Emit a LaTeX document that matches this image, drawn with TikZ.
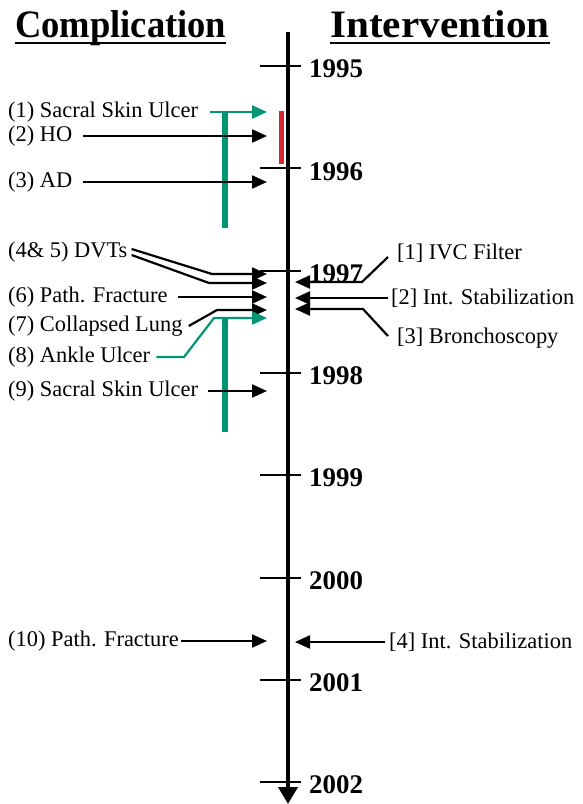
\documentclass[tikz,border=0pt]{standalone}
\usepackage{fontspec}
\setmainfont{Liberation Serif}
\usetikzlibrary{arrows.meta}
\definecolor{ulcergreen}{RGB}{0,150,115}
\definecolor{hored}{RGB}{220,35,45}
\tikzset{
  lbl/.style={font=\fontsize{22.5}{24}\selectfont, inner sep=0pt},
  yr/.style={font=\bfseries\fontsize{27}{29}\selectfont, inner sep=0pt, anchor=west},
  hdr/.style={font=\bfseries\fontsize{39}{41}\selectfont, inner sep=0pt, anchor=base west, transform shape},
  conn/.style={line width=2.2bp},
  tickmark/.style={line width=2bp},
}
\begin{document}
\begin{tikzpicture}[x=1bp,y=-1bp,>={Triangle[length=15bp,width=13bp]}]
\useasboundingbox (0,0) rectangle (583,804);
% headings
\node[hdr,xscale=0.94] (comp) at (15,38) {Complication};
\node[hdr,xscale=1.06] (interv) at (330,38) {Intervention};
\draw[line width=2.5bp] ([yshift=-5bp]comp.base west) -- ([yshift=-5bp]comp.base east);
\draw[line width=2.5bp] ([yshift=-5bp]interv.base west) -- ([yshift=-5bp]interv.base east);
% time axis
\draw[line width=4bp,-{Triangle[length=17bp,width=19bp]}] (288,32) -- (288,804);
\foreach \yr [count=\i from 0] in {1995,...,2002}{
  \draw[tickmark] (260,{66+102.3*\i}) -- (301,{66+102.3*\i});
  \node[yr] (y\yr) at (309,{69+102.3*\i}) {\yr};
}
% bars
\draw[hored,line width=5bp] (281,111) -- (281,164);
\draw[ulcergreen,line width=5.5bp] (225,113) -- (225,228);
\draw[ulcergreen,line width=5.5bp] (225,317) -- (225,432);
% complications
\node[lbl,anchor=west] (s1) at (8,112) {(1) Sacral Skin Ulcer};
\node[lbl,anchor=west] (ho) at (8,136) {(2) HO};
\node[lbl,anchor=west] (ad) at (8,182) {(3) AD};
\node[lbl,anchor=west] (dvt) at (8,252) {(4\& 5) DVTs};
\node[lbl,anchor=west] (pf) at (8,297) {(6) Path. Fracture};
\node[lbl,anchor=west] (cl) at (8,326) {(7) Collapsed Lung};
\node[lbl,anchor=west] (au) at (8,357) {(8) Ankle Ulcer};
\node[lbl,anchor=west] (s2) at (8,391) {(9) Sacral Skin Ulcer};
\node[lbl,anchor=west] (pf2) at (8,641) {(10) Path. Fracture};
% interventions
\node[lbl,anchor=west] (ivc) at (397,253) {[1] IVC Filter};
\node[lbl,anchor=west] (is1) at (391,298) {[2] Int. Stabilization};
\node[lbl,anchor=west] (br) at (397,338) {[3] Bronchoscopy};
\node[lbl,anchor=west] (is2) at (389,642) {[4] Int. Stabilization};
% arrow ends
\coordinate (tipL) at (267,0);
\coordinate (tipR) at (295,0);
\coordinate (d1) at (267,274);
\coordinate (d2) at (267,283);
\coordinate (c7) at (267,310);
\coordinate (c8) at (267,318);
\coordinate (r1) at (295,282);
\coordinate (r3) at (295,309);
% connectors, left
\draw[ulcergreen,conn,->] ([xshift=12bp]s1.east) -- (s1 -| tipL);
\draw[conn,->] ([xshift=10bp]ho.east) -- (ho -| tipL);
\draw[conn,->] ([xshift=10bp]ad.east) -- (ad -| tipL);
\draw[conn,->] ([xshift=4bp,yshift=3bp]dvt.east) -- (212,274) -- (d1);
\draw[conn,->] ([xshift=4bp,yshift=-3bp]dvt.east) -- (209,283) -- (d2);
\draw[conn,->] ([xshift=10bp]pf.east) -- (pf -| tipL);
\draw[conn,->] ([xshift=6bp]cl.east) -- (217,310) -- (c7);
\draw[ulcergreen,conn,->] ([xshift=6bp]au.east) -- (184,357) -- (214,318) -- (c8);
\draw[conn,->] ([xshift=10bp]s2.east) -- (s2 -| tipL);
\draw[conn,->] ([xshift=2bp]pf2.east) -- (pf2 -| tipL);
% connectors, right
\draw[conn,->] ([xshift=-9bp,yshift=-4bp]ivc.west) -- (362,282) -- (r1);
\draw[conn,->] ([xshift=-3bp]is1.west) -- (is1 -| tipR);
\draw[conn,->] ([xshift=-9bp,yshift=2bp]br.west) -- (363,309) -- (r3);
\draw[conn,->] ([xshift=-4bp]is2.west) -- (is2 -| tipR);
\end{tikzpicture}
\end{document}
